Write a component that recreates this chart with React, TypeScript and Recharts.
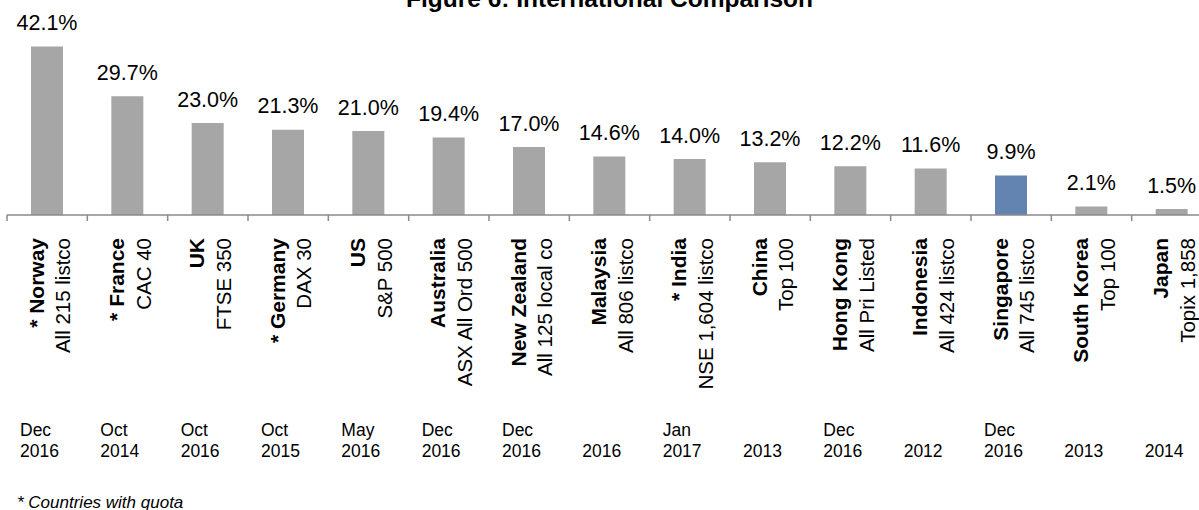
import React from 'react';
import { BarChart, Bar, XAxis, YAxis, Cell, LabelList } from 'recharts';

const countries = [
  'Norway', 'France', 'UK', 'Germany', 'US', 'Australia', 'New Zealand', 'Malaysia',
  'India', 'China', 'Hong Kong', 'Indonesia', 'Singapore', 'South Korea', 'Japan',
];
const indexNames = [
  'All 215 listco', 'CAC 40', 'FTSE 350', 'DAX 30', 'S&P 500', 'ASX All Ord 500',
  'All 125 local co', 'All 806 listco', 'NSE 1,604 listco', 'Top 100', 'All Pri Listed',
  'All 424 listco', 'All 745 listco', 'Top 100', 'Topix 1,858',
];
const withQuota = [true, true, false, true, false, false, false, false, true, false, false, false, false, false, false];
const womenOnBoards = [42.1, 29.7, 23.0, 21.3, 21.0, 19.4, 17.0, 14.6, 14.0, 13.2, 12.2, 11.6, 9.9, 2.1, 1.5];
const months = ['Dec', 'Oct', 'Oct', 'Oct', 'May', 'Dec', 'Dec', '', 'Jan', '', 'Dec', '', 'Dec', '', ''];
const years = ['2016', '2014', '2016', '2015', '2016', '2016', '2016', '2016', '2017', '2013', '2016', '2012', '2016', '2013', '2014'];
const highlight = 'Singapore';

const data = countries.map((c, i) => ({ country: c, value: womenOnBoards[i] }));

const FONT = '"Liberation Sans", Arial, sans-serif';
const CHART_W = 1213;
const CHART_H = 510;
const LEFT = 7;
const PLOT_W = CHART_W - LEFT - 1;
const BAND = PLOT_W / countries.length;
const AXIS_COLOR = '#8a8a8a';

// custom tick: boundary tick mark, rotated two-line label and the date underneath
const CategoryTick = (props: any) => {
  const { x, y, payload } = props;
  const i = payload.index;
  const name = (withQuota[i] ? '* ' : '') + countries[i];
  const boldX = x - 3.5;
  const regX = x + 23.3;
  const textTop = y + 23;
  const left = x - BAND / 2;
  return (
    <g fontFamily={FONT}>
      <line x1={left} y1={y} x2={left} y2={y + 6} stroke={AXIS_COLOR} strokeWidth={1.5} />
      <text
        x={boldX}
        y={textTop}
        transform={`rotate(-90, ${boldX}, ${textTop})`}
        textAnchor="end"
        fontSize={21}
        fontWeight="bold"
        fill="#000"
      >
        {name}
      </text>
      <text
        x={regX}
        y={textTop}
        transform={`rotate(-90, ${regX}, ${textTop})`}
        textAnchor="end"
        fontSize={20.5}
        fill="#000"
      >
        {indexNames[i]}
      </text>
      {months[i] && (
        <text x={left + 13} y={436} fontSize={17.5} fill="#000">
          {months[i]}
        </text>
      )}
      <text x={left + 13} y={457} fontSize={17.5} fill="#000">
        {years[i]}
      </text>
    </g>
  );
};

const ValueLabel = (props: any) => {
  const { x, y, width, value } = props;
  return (
    <text
      x={x + width / 2}
      y={y - 16.5}
      textAnchor="middle"
      fontSize={21.5}
      fontFamily={FONT}
      fill="#000"
    >
      {Number(value).toFixed(1)}%
    </text>
  );
};

export default function App() {
  return (
    <div style={{ position: 'absolute', left: 0, top: 0, width: 1199, height: 510, overflow: 'hidden', background: '#fff' }}>
      <BarChart
        width={CHART_W}
        height={CHART_H}
        data={data}
        margin={{ top: 35, right: 1, left: LEFT, bottom: 0 }}
      >
        <XAxis
          dataKey="country"
          interval={0}
          height={295}
          tickSize={0}
          tickMargin={0}
          tickLine={false}
          axisLine={{ stroke: AXIS_COLOR, strokeWidth: 1.5 }}
          tick={<CategoryTick />}
        />
        <YAxis hide domain={[0, 45]} />
        <Bar dataKey="value" barSize={32} isAnimationActive={false}>
          {data.map((d) => (
            <Cell key={d.country} fill={d.country === highlight ? '#6384b0' : '#a6a6a6'} />
          ))}
          <LabelList dataKey="value" content={<ValueLabel />} />
        </Bar>
      </BarChart>
      <svg width={1199} height={510} style={{ position: 'absolute', left: 0, top: 0, pointerEvents: 'none' }}>
        <text x={LEFT + PLOT_W / 2} y={7} textAnchor="middle" fontSize={24.5} fontWeight="bold" fontFamily={FONT} fill="#000">
          Figure 6: International Comparison
        </text>
        <text x={17} y={508} fontSize={17} fontStyle="italic" fontFamily={FONT} fill="#000">
          * Countries with quota
        </text>
      </svg>
    </div>
  );
}
